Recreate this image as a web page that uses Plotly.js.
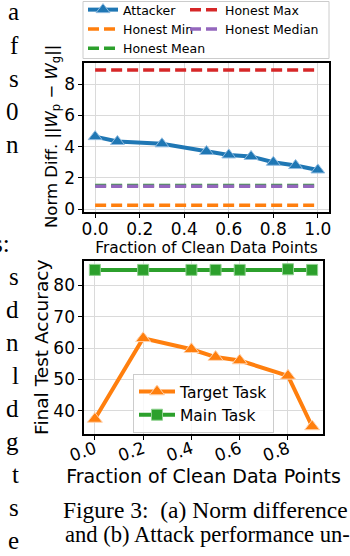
<!DOCTYPE html>
<html>
<head>
<meta charset="utf-8">
<script src="https://cdn.plot.ly/plotly-3.0.1.min.js"></script>
<style>
  html, body { margin: 0; padding: 0; background: #fff; }
  #chart { width: 350px; height: 556px; }
</style>
</head>
<body>
<div id="chart"></div>
<script>
// (a) norm difference vs fraction of clean data
const cleanFracA = [0.0, 0.1, 0.3, 0.5, 0.6, 0.7, 0.8, 0.9, 1.0];
const attackerNorm = [4.64, 4.33, 4.18, 3.69, 3.47, 3.37, 3.0, 2.79, 2.51];
const honestSpan = [0.0, 1.0];
const honestMax = 8.91;
const honestMin = 0.25;
const honestMean = 1.52;
const honestMedian = 1.47;

// (b) attack performance vs fraction of clean data
const cleanFracB = [0.0, 0.2, 0.4, 0.5, 0.6, 0.8, 0.9];
const targetTaskAcc = [37.3, 63.1, 59.6, 57.1, 56.0, 51.1, 34.9];
const mainTaskAcc = [85.0, 85.0, 85.0, 85.0, 85.0, 85.2, 85.0];

const ticksA = [0, 0.2, 0.4, 0.6, 0.8, 1.0];
const ticksB = [0, 0.2, 0.4, 0.6, 0.8];
const ticksNorm = [0, 2, 4, 6, 8];
const ticksAcc = [40, 50, 60, 70, 80];

// page text around the figure (line endings of the next column, caption)
const sideFragments = ["a", "f", "s", "0", "n", "", "", "s:", "s", "d", "n", "l", "d", "g", "t", "s", "e"];
const captionLines = ["Figure 3:&nbsp; (a) Norm difference", "and (b) Attack performance un-"];

const W = 350, H = 556;
const ml = 84, mr = 21, mt = 63, mb = 122;
const pw = W - ml - mr, ph = H - mt - mb;
const px = x => (x - ml) / pw;
const py = y => 1 - (y - mt) / ph;

const blue = "#1f77b4", orange = "#ff7f0e", green = "#2ca02c", red = "#d62728", purple = "#9467bd";
const dashed = "11px,5px";
const sans = "DejaVu Sans, sans-serif";
const serif = "Liberation Serif, serif";

// honest lines: first legend column holds Min/Mean, second holds Max/Median
function hline(y, name, color, rank, legend) {
    return {
        x: honestSpan, y: [y, y], mode: "lines", name: name,
        line: {color: color, width: 3.5, dash: dashed},
        legendrank: rank, xaxis: "x", yaxis: "y", legend: legend
    };
}

const data = [
    hline(honestMin, "Honest Min", orange, 2, "legend"),
    hline(honestMean, "Honest Mean", green, 3, "legend"),
    hline(honestMedian, "Honest Median", purple, 2, "legend3"),
    hline(honestMax, "Honest Max", red, 1, "legend3"),
    {
        x: cleanFracA, y: attackerNorm, mode: "lines+markers", name: "Attacker",
        line: {color: blue, width: 4},
        marker: {symbol: "triangle-up", size: 12, color: blue, line: {color: "#8fbbe0", width: 1}},
        legendrank: 1, xaxis: "x", yaxis: "y", legend: "legend"
    },
    {
        x: cleanFracB, y: targetTaskAcc, mode: "lines+markers", name: "Target Task",
        line: {color: orange, width: 4},
        marker: {symbol: "triangle-up", size: 13, color: orange, line: {color: "#ffd2ad", width: 1}},
        xaxis: "x2", yaxis: "y2", legend: "legend2"
    },
    {
        x: cleanFracB, y: mainTaskAcc, mode: "lines+markers", name: "Main Task",
        line: {color: green, width: 4},
        marker: {symbol: "square", size: 11, color: green, line: {color: "#8fd18f", width: 1}},
        xaxis: "x2", yaxis: "y2", legend: "legend2"
    }
];

const axisBase = {
    showline: true, mirror: true, linecolor: "#000", linewidth: 1.6,
    showgrid: true, gridcolor: "#dadada", gridwidth: 1,
    zeroline: false, ticks: "outside", ticklen: 4, tickcolor: "#000",
    tickfont: {family: sans, size: 17, color: "#000"}
};

const annotations = [];
sideFragments.forEach((t, i) => {
    if (!t) return;
    const right = t.endsWith(":") ? 12 : 21;
    annotations.push({
        text: t, xref: "paper", yref: "paper", x: px(right), y: py(20 + 33 * i - 8),
        xanchor: "right", yanchor: "middle", showarrow: false,
        font: {family: serif, size: 25, color: "#000"}
    });
});
const captionSizes = [23.5, 22.6];
captionLines.forEach((t, i) => {
    annotations.push({
        text: t, xref: "paper", yref: "paper", x: px(i ? 63 : 61), y: py(510 + 24 * i),
        xanchor: "left", yanchor: "middle", showarrow: false,
        font: {family: serif, size: captionSizes[i], color: "#000"}
    });
});
// y title of panel (a), placed by hand so it hugs the tick labels like the original
annotations.push({
    text: "Norm Diff. ||<i>W</i><sub>p</sub> − <i>W</i><sub>g</sub>||",
    xref: "paper", yref: "paper", x: px(52), y: py(137), textangle: -90,
    xanchor: "center", yanchor: "middle", showarrow: false,
    font: {family: sans, size: 16.5, color: "#000"}
});

const legendBase = {
    xanchor: "left", yanchor: "top", orientation: "v", traceorder: "normal",
    bgcolor: "rgba(0,0,0,0)", borderwidth: 0,
    font: {family: sans, size: 12.5, color: "#000"}
};

const layout = {
    width: W, height: H,
    margin: {l: ml, r: mr, t: mt, b: mb, autoexpand: false},
    paper_bgcolor: "#fff", plot_bgcolor: "#fff",
    font: {family: sans, color: "#000"},
    showlegend: true,
    xaxis: Object.assign({}, axisBase, {
        domain: [0, 1], anchor: "y", range: [-0.05, 1.05],
        tickvals: ticksA, ticktext: ticksA.map(v => v.toFixed(1)),
        ticklabelstandoff: -3,
        title: {text: "Fraction of Clean Data Points", font: {family: sans, size: 15.4}, standoff: 0}
    }),
    yaxis: Object.assign({}, axisBase, {
        domain: [py(212), 1], anchor: "x", range: [-0.18, 9.35],
        tickvals: ticksNorm
    }),
    xaxis2: Object.assign({}, axisBase, {
        domain: [0, px(323)], anchor: "y2", range: [-0.045, 0.945],
        tickvals: ticksB, ticktext: ticksB.map(v => v.toFixed(1)), tickangle: -20,
        ticklabelstandoff: -7,
        title: {text: "Fraction of Clean Data Points", font: {family: sans, size: 19}, standoff: 0}
    }),
    yaxis2: Object.assign({}, axisBase, {
        domain: [0, py(260.5)], anchor: "x2", range: [32.5, 88],
        tickvals: ticksAcc,
        title: {text: "Final Test Accuracy", font: {family: sans, size: 18.5}, standoff: 0}
    }),
    legend: Object.assign({}, legendBase, {x: px(83), y: py(-5)}),
    legend3: Object.assign({}, legendBase, {x: px(185), y: py(-5)}),
    legend2: {
        x: px(133), y: py(374), xanchor: "left", yanchor: "top",
        itemwidth: 36,
        bgcolor: "rgba(255,255,255,0.8)", bordercolor: "#cccccc", borderwidth: 1,
        font: {family: sans, size: 15.5, color: "#000"}
    },
    shapes: [{
        type: "rect", xref: "paper", yref: "paper",
        x0: px(83), x1: px(329), y0: py(58.5), y1: py(1.5),
        line: {color: "#cccccc", width: 1}, fillcolor: "rgba(0,0,0,0)"
    }],
    annotations: annotations
};

Plotly.newPlot("chart", data, layout, {displayModeBar: false, staticPlot: true});
</script>
</body>
</html>
